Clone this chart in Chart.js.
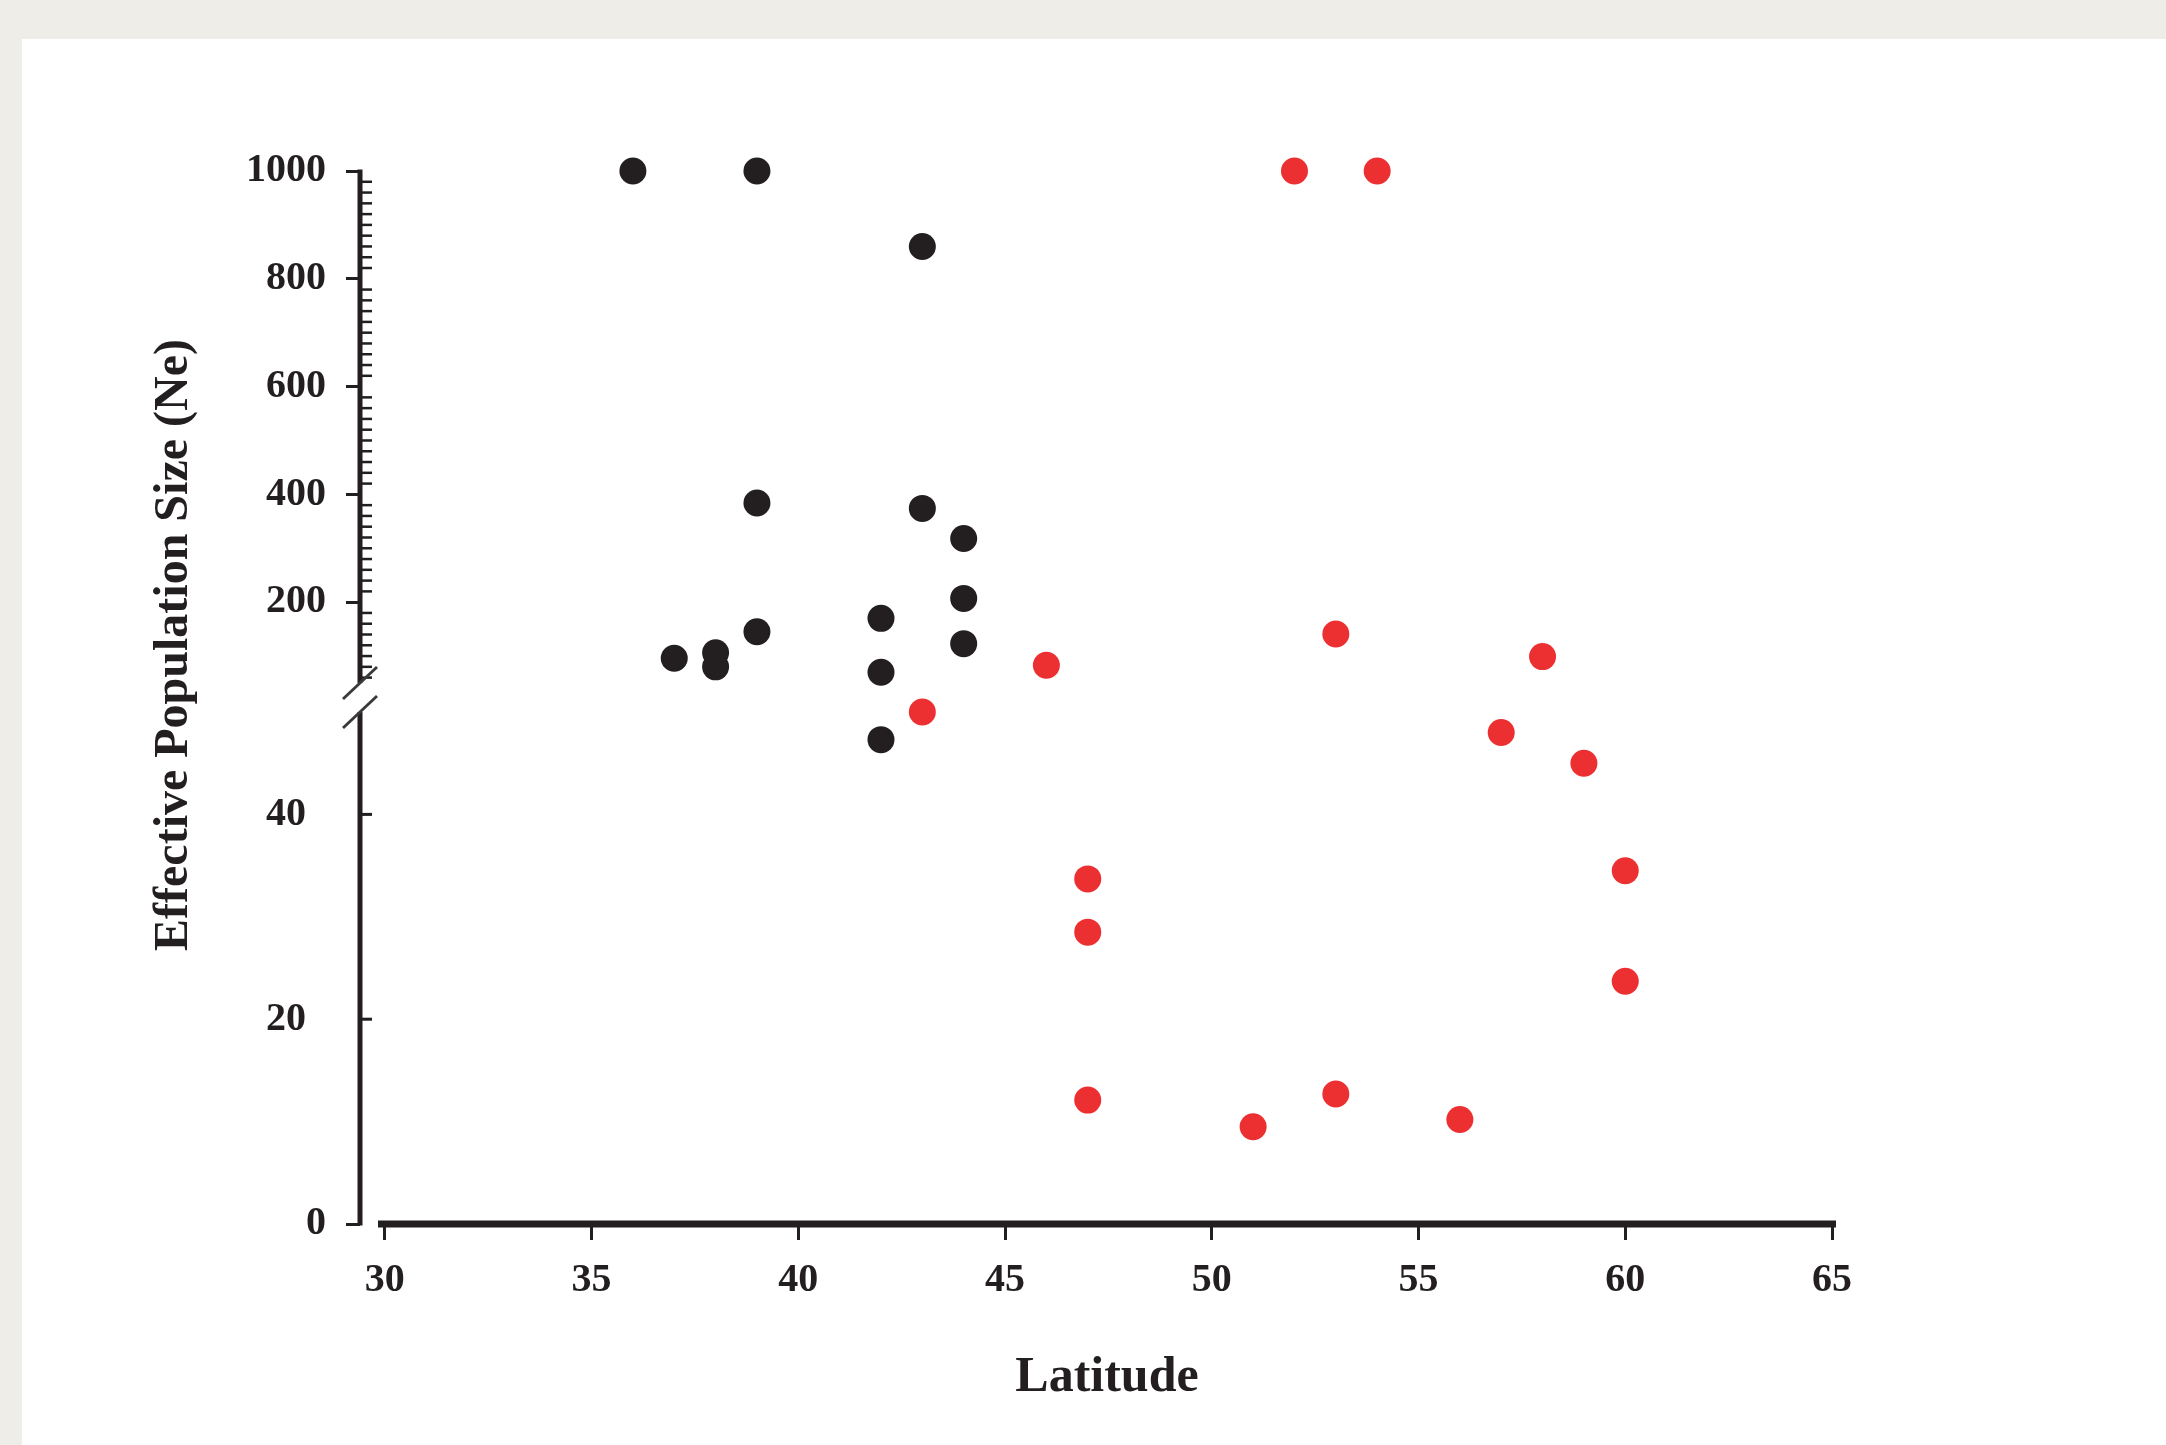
<!DOCTYPE html>
<html><head><meta charset="utf-8">
<script src="https://cdn.jsdelivr.net/npm/chart.js@4.4.0/dist/chart.umd.min.js"></script>
<style>html,body{margin:0;padding:0;background:#efede8;overflow:hidden}#wrap{position:relative;width:2166px;height:1445px}</style>
</head><body><div id="wrap"><canvas id="c"></canvas></div>
<script>
// ---- data ----
const blackLatitude = [36, 39, 43, 39, 43, 44, 44, 42, 39, 44, 37, 38, 38, 42, 42];
const blackNe       = [1000, 1000, 860, 384, 374, 318, 207, 170, 145, 123, 96, 106, 80, 70, 47.3];
const redLatitude   = [52, 54, 53, 58, 46, 43, 57, 59, 47, 47, 47, 51, 53, 56, 60, 60];
const redNe         = [1000, 1000, 141, 99, 83, 50, 48, 45, 33.7, 28.5, 12.1, 9.5, 12.7, 10.2, 34.5, 23.7];
const xTickLabels     = [30, 35, 40, 45, 50, 55, 60, 65];
const upperTickLabels = [200, 400, 600, 800, 1000];
const lowerTickLabels = [0, 20, 40];
const BREAK_VALUE = 50;
const xTitle = 'Latitude';
const yTitle = 'Effective Population Size (Ne)';

const INK = '#231f20';
const RED = '#ec3032';
const FONT = '"Liberation Serif", "Times New Roman", serif';

function split(lat, ne, upper) {
  const out = [];
  lat.forEach((x, i) => { const y = ne[i]; if ((y > BREAK_VALUE) === upper) out.push({x, y}); });
  return out;
}

const decor = {
  id: 'decor',
  beforeDraw(chart) {
    const c = chart.ctx;
    c.save();
    c.fillStyle = '#efede8';
    c.fillRect(0, 0, chart.width, chart.height);
    c.fillStyle = '#ffffff';
    c.fillRect(22, 39, chart.width - 22, chart.height - 39);
    c.restore();
  },
  beforeDatasetsDraw(chart) {
    const c = chart.ctx;
    const xs = chart.scales.x, lo = chart.scales.y0, up = chart.scales.y1;
    const ax = chart.chartArea.left;
    c.save();
    c.fillStyle = INK;
    // x axis line
    const y0px = lo.getPixelForValue(0);
    c.fillRect(ax + 18, y0px - 3.5, xs.getPixelForValue(65) + 4 - (ax + 18), 7);
    // upper y axis line
    const topPx = up.getPixelForValue(1000) - 1.5;
    const upBot = up.getPixelForValue(BREAK_VALUE);
    c.fillRect(ax - 2.5, topPx, 5, upBot - topPx);
    // lower y axis line
    const loTop = lo.getPixelForValue(BREAK_VALUE);
    c.fillRect(ax - 2.5, loTop, 5, y0px + 1.5 - loTop);
    // minor inward ticks, upper segment
    for (let v = 60; v < 1000; v += 20) {
      if (v % 200 === 0) continue;
      const p = up.getPixelForValue(v);
      c.fillRect(ax, p - 1.25, 12, 2.5);
    }
    // inward ticks, lower segment
    [20, 40].forEach(v => { const p = lo.getPixelForValue(v); c.fillRect(ax, p - 1.5, 12, 3); });
    // break marks
    c.strokeStyle = '#3a3a3a';
    c.lineWidth = 3;
    [upBot, loTop].forEach(p => {
      c.beginPath();
      c.moveTo(ax - 17, p + 16);
      c.lineTo(ax + 17, p - 16);
      c.stroke();
    });
    // titles
    c.fillStyle = INK;
    c.font = 'bold 48px ' + FONT;
    c.textAlign = 'center';
    c.textBaseline = 'middle';
    c.save();
    c.translate(175, 645);
    c.rotate(-Math.PI / 2);
    c.fillText(yTitle, 0, 0);
    c.restore();
    c.font = 'bold 50px ' + FONT;
    c.textBaseline = 'alphabetic';
    c.fillText(xTitle, 1107, 1391);
    c.restore();
  }
};

const tickFont = {family: FONT, size: 40, weight: 'bold'};
const pointStyle = (color) => ({backgroundColor: color, borderWidth: 0, pointRadius: 13.5, pointHoverRadius: 13.5, clip: false});

new Chart(document.getElementById('c'), {
  type: 'scatter',
  data: {
    datasets: [
      Object.assign({label: 'black-upper', data: split(blackLatitude, blackNe, true), yAxisID: 'y1'}, pointStyle(INK)),
      Object.assign({label: 'black-lower', data: split(blackLatitude, blackNe, false), yAxisID: 'y0'}, pointStyle(INK)),
      Object.assign({label: 'red-upper', data: split(redLatitude, redNe, true), yAxisID: 'y1'}, pointStyle(RED)),
      Object.assign({label: 'red-lower', data: split(redLatitude, redNe, false), yAxisID: 'y0'}, pointStyle(RED))
    ]
  },
  options: {
    responsive: true,
    maintainAspectRatio: false,
    devicePixelRatio: 1,
    animation: false,
    layout: {padding: {left: 0, top: 171, right: 334, bottom: 0}},
    plugins: {legend: {display: false}, tooltip: {enabled: false}},
    scales: {
      x: {
        type: 'linear', position: 'bottom', min: 29.4, max: 65,
        afterBuildTicks: s => { s.ticks = xTickLabels.map(v => ({value: v})); },
        afterFit: s => { s.height = 221; },
        border: {display: false},
        grid: {drawOnChartArea: false, drawTicks: true, tickLength: 16, tickWidth: 3, tickColor: INK},
        ticks: {font: tickFont, color: INK, padding: 17, maxRotation: 0, autoSkip: false, callback: v => String(v)}
      },
      y0: {
        type: 'linear', position: 'left', stack: 'ne', stackWeight: 512, min: 0, max: BREAK_VALUE,
        afterBuildTicks: s => { s.ticks = lowerTickLabels.map(v => ({value: v})); },
        afterFit: s => { s.width = 360; },
        border: {display: false},
        grid: {drawOnChartArea: false, drawTicks: true, tickLength: 14, tickWidth: 3,
               tickColor: ctx => (ctx.tick && ctx.tick.value === 0) ? INK : 'rgba(0,0,0,0)'},
        ticks: {font: tickFont, color: INK, padding: 20, autoSkip: false,
                callback: v => v === 0 ? '0' : String(v) + '\u2002'}
      },
      y1: {
        type: 'linear', position: 'left', stack: 'ne', stackWeight: 541, min: -3.8, max: 1000,
        afterBuildTicks: s => { s.ticks = upperTickLabels.map(v => ({value: v})); },
        afterFit: s => { s.width = 360; },
        border: {display: false},
        grid: {drawOnChartArea: false, drawTicks: true, tickLength: 14, tickWidth: 3, tickColor: INK},
        ticks: {font: tickFont, color: INK, padding: 20, autoSkip: false, callback: v => String(v)}
      }
    }
  },
  plugins: [decor]
});
</script></body></html>
